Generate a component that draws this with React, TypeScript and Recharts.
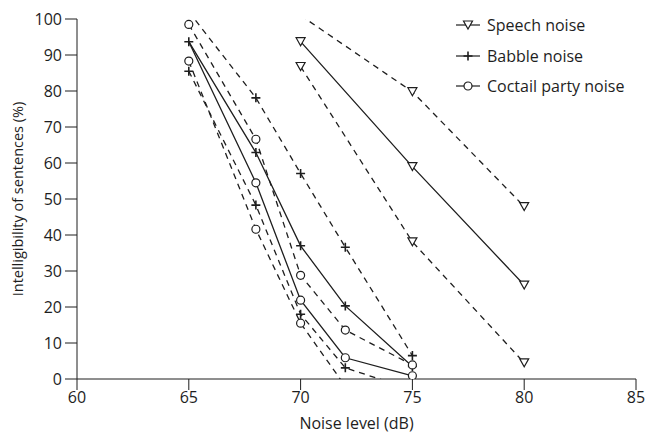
import React from 'react'
import { LineChart, Line, XAxis, YAxis, Legend, Label } from 'recharts'

// noise levels (dB) where intelligibility was measured
const levels = [65, 68, 70, 72, 75, 80]

// mean and upper / lower bounds per noise type (%), null = not measured
const speechMean = [null, null, 93.7, null, 59.0, 26.1]
const speechUpper = [null, null, 101, null, 79.8, 47.9]
const speechLower = [null, null, 86.8, null, 38.1, 4.5]

const babbleMean = [93.7, 62.9, 37.0, 20.3, 3.5, null]
const babbleUpper = [102, 78.1, 57.1, 36.6, 6.5, null]
const babbleLower = [85.5, 48.3, 18.0, 3.1, -3, null]

const cocktailMean = [93.7, 54.5, 21.9, 5.9, 0.9, null]
const cocktailUpper = [98.5, 66.6, 28.8, 13.6, 3.9, null]
const cocktailLower = [88.3, 41.6, 15.5, -2, null, null]

const xTicks = [60, 65, 70, 75, 80, 85]
const yTicks = [0, 10, 20, 30, 40, 50, 60, 70, 80, 90, 100]

const legendItems = [
  { label: 'Speech noise', shape: 'triangle' },
  { label: 'Babble noise', shape: 'plus' },
  { label: 'Coctail party noise', shape: 'circle' },
]

const INK = '#1e1e1e'

const data = levels.map((x, i) => ({
  x,
  speechMean: speechMean[i],
  speechUpper: speechUpper[i],
  speechLower: speechLower[i],
  babbleMean: babbleMean[i],
  babbleUpper: babbleUpper[i],
  babbleLower: babbleLower[i],
  cocktailMean: cocktailMean[i],
  cocktailUpper: cocktailUpper[i],
  cocktailLower: cocktailLower[i],
}))

function Marker({ shape, cx, cy }: { shape: string; cx: number; cy: number }) {
  if (shape === 'triangle') {
    return (
      <polygon
        points={`${cx - 4.5},${cy - 4} ${cx + 4.5},${cy - 4} ${cx},${cy + 4}`}
        fill="#fff"
        stroke={INK}
        strokeWidth={1.2}
      />
    )
  }
  if (shape === 'plus') {
    return (
      <path
        d={`M${cx - 4.5},${cy} H${cx + 4.5} M${cx},${cy - 4.5} V${cy + 4.5}`}
        stroke={INK}
        strokeWidth={1.6}
      />
    )
  }
  return <circle cx={cx} cy={cy} r={4} fill="#fff" stroke={INK} strokeWidth={1.2} />
}

// draw markers only for points inside the 0-100 range, skip hidden indices
const dotFor = (shape: string, hidden: number[] = []) => (props: any) => {
  const { cx, cy, value, index } = props
  const key = `${shape}-${props.dataKey}-${index}`
  if (value == null || value < 0 || value > 100 || hidden.includes(index) || cx == null || cy == null) {
    return <g key={key} />
  }
  return (
    <g key={key}>
      <Marker shape={shape} cx={cx} cy={cy} />
    </g>
  )
}

function LegendBox() {
  return (
    <div style={{ fontSize: 16, color: INK }}>
      {legendItems.map((item) => (
        <div key={item.label} style={{ display: 'flex', alignItems: 'center', height: 30.5 }}>
          <svg width={24} height={14} style={{ marginRight: 7 }}>
            <line x1={0} y1={7} x2={24} y2={7} stroke={INK} strokeWidth={1.2} />
            <Marker shape={item.shape} cx={12} cy={7} />
          </svg>
          <span>{item.label}</span>
        </div>
      ))}
    </div>
  )
}

export default function App() {
  const solid = { stroke: INK, strokeWidth: 1.3, connectNulls: true, isAnimationActive: false, activeDot: false as const }
  const dashed = { ...solid, strokeDasharray: '6 5' }

  return (
    <div style={{ position: 'absolute', left: 0, top: 0, fontFamily: '"Open Sans", Lato, sans-serif', background: '#fff' }}>
      <LineChart width={646} height={437} data={data} margin={{ top: 19, right: 10, left: 0, bottom: 8 }}>
        <XAxis
          type="number"
          dataKey="x"
          domain={[60, 85]}
          ticks={xTicks}
          tickSize={11}
          tickMargin={2}
          height={50}
          stroke={INK}
          tick={{ fill: INK, fontSize: 16 }}
        >
          <Label value="Noise level (dB)" position="insideBottom" offset={0} style={{ fill: INK, fontSize: 16 }} />
        </XAxis>
        <YAxis
          type="number"
          domain={[0, 100]}
          ticks={yTicks}
          allowDataOverflow
          width={77}
          tickSize={12}
          tickMargin={3}
          stroke={INK}
          tick={{ fill: INK, fontSize: 16 }}
        >
          <Label
            value="Intelligibility of sentences (%)"
            angle={-90}
            position="insideLeft"
            offset={18}
            style={{ fill: INK, fontSize: 14.5, textAnchor: 'middle' }}
          />
        </YAxis>
        <Legend
          layout="horizontal"
          verticalAlign="middle"
          align="center"
          content={() => <LegendBox />}
          wrapperStyle={{ position: 'absolute', top: 10, left: 456, width: 190 }}
        />

        <Line dataKey="speechUpper" {...dashed} dot={dotFor('triangle')} />
        <Line dataKey="speechMean" {...solid} dot={dotFor('triangle')} />
        <Line dataKey="speechLower" {...dashed} dot={dotFor('triangle')} />

        <Line dataKey="babbleUpper" {...dashed} dot={dotFor('plus')} />
        <Line dataKey="babbleMean" {...solid} dot={dotFor('plus')} />
        <Line dataKey="babbleLower" {...dashed} dot={dotFor('plus')} />

        <Line dataKey="cocktailUpper" {...dashed} dot={dotFor('circle')} />
        <Line dataKey="cocktailMean" {...solid} dot={dotFor('circle', [0])} />
        <Line dataKey="cocktailLower" {...dashed} dot={dotFor('circle')} />
      </LineChart>
    </div>
  )
}
